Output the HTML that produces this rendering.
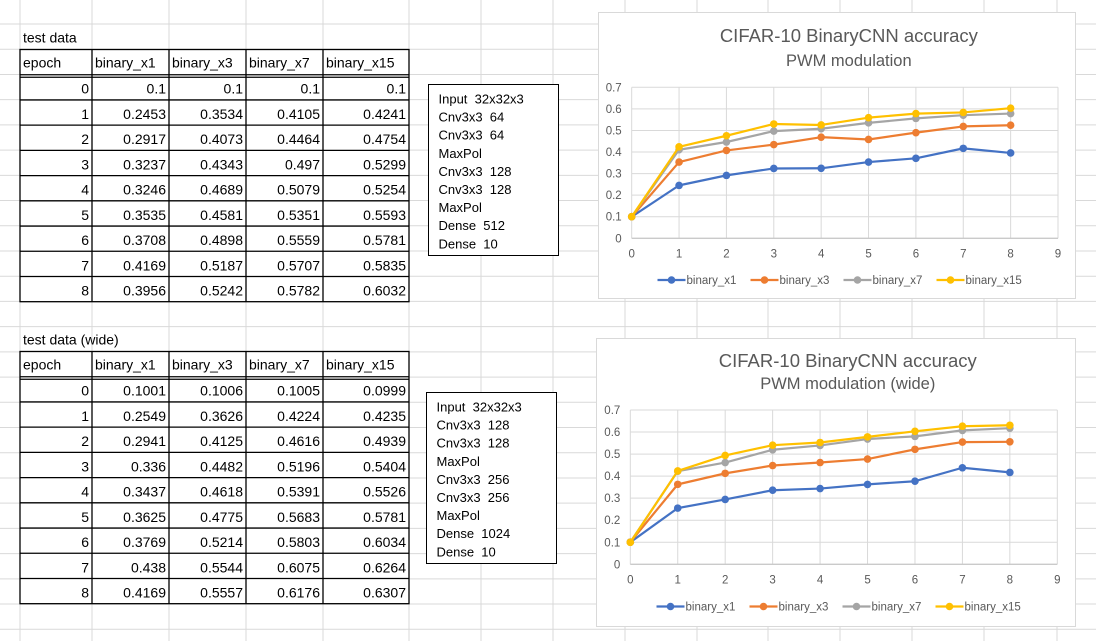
<!DOCTYPE html>
<html><head><meta charset="utf-8">
<style>
body{margin:0;background:#fff;overflow:hidden;width:1096px;height:641px}
svg{display:block;font-family:"Liberation Sans","Noto Sans CJK JP",sans-serif}
text{white-space:pre}
</style></head>
<body>
<svg id="s" width="1096" height="641" viewBox="0 0 1096 641" xmlns="http://www.w3.org/2000/svg">
<g id="grid"></g>
<g id="tables"></g>
<g id="boxes"></g>
<g id="charts"></g>
</svg>
<script>
const epochs = [0,1,2,3,4,5,6,7,8];
const seriesNames = ["binary_x1","binary_x3","binary_x7","binary_x15"];
const t1_x1 = [0.1,0.2453,0.2917,0.3237,0.3246,0.3535,0.3708,0.4169,0.3956];
const t1_x3 = [0.1,0.3534,0.4073,0.4343,0.4689,0.4581,0.4898,0.5187,0.5242];
const t1_x7 = [0.1,0.4105,0.4464,0.497,0.5079,0.5351,0.5559,0.5707,0.5782];
const t1_x15 = [0.1,0.4241,0.4754,0.5299,0.5254,0.5593,0.5781,0.5835,0.6032];
const t2_x1 = [0.1001,0.2549,0.2941,0.336,0.3437,0.3625,0.3769,0.438,0.4169];
const t2_x3 = [0.1006,0.3626,0.4125,0.4482,0.4618,0.4775,0.5214,0.5544,0.5557];
const t2_x7 = [0.1005,0.4224,0.4616,0.5196,0.5391,0.5683,0.5803,0.6075,0.6176];
const t2_x15 = [0.0999,0.4235,0.4939,0.5404,0.5526,0.5781,0.6034,0.6264,0.6307];
const yTicks = [0,0.1,0.2,0.3,0.4,0.5,0.6,0.7];
const xTicks = [0,1,2,3,4,5,6,7,8,9];
const box1Lines = ["Input  32x32x3","Cnv3x3  64","Cnv3x3  64","MaxPol","Cnv3x3  128","Cnv3x3  128","MaxPol","Dense  512","Dense  10"];
const box2Lines = ["Input  32x32x3","Cnv3x3  128","Cnv3x3  128","MaxPol","Cnv3x3  256","Cnv3x3  256","MaxPol","Dense  1024","Dense  10"];
const colors = ["#4472C4","#ED7D31","#A5A5A5","#FFC000"];

const NS="http://www.w3.org/2000/svg";
function mk(tag, attrs, parent, text){const e=document.createElementNS(NS,tag);for(const k in attrs)e.setAttribute(k,attrs[k]);if(text!==undefined)e.textContent=text;parent.appendChild(e);return e;}

const grid=document.getElementById('grid');
const colX=[20,92,169,246,323,409,481,553,625,697,768,840,912,984,1057];
const RH=25.22;
for(const x of colX){const l=mk('line',{x1:x,y1:0,x2:x,y2:641,stroke:'#d9d9d9','stroke-width':1},grid);}
for(let i=0;i<25;i++){const y=24+i*RH;if(y>640)break;const l=mk('line',{x1:0,y1:y,x2:1096,y2:y,stroke:'#d9d9d9','stroke-width':1},grid);}

const tg=document.getElementById('tables');
function table(title, top, cols){
  const g=mk('g',{},tg);
  
  
  const left=colX[0], right=colX[5];
  const tt=mk('text',{x:left+3,y:top-7,'font-size':14,fill:'#000'},g,title);
  
  
  mk('rect',{x:left,y:top,width:right-left,height:RH*10,fill:'#fff',stroke:'#000','stroke-width':1.3},g);
  for(let i=1;i<10;i++){mk('line',{x1:left,y1:top+i*RH,x2:right,y2:top+i*RH,stroke:'#000','stroke-width':1.3},g);}
  mk('line',{x1:left,y1:top+RH+2.5,x2:right,y2:top+RH+2.5,stroke:'#000','stroke-width':1.3},g);
  for(let c=1;c<5;c++){mk('line',{x1:colX[c],y1:top,x2:colX[c],y2:top+RH*10,stroke:'#000','stroke-width':1.3},g);}
  const hdr=["epoch"].concat(seriesNames);
  hdr.forEach((h,c)=>{const t=mk('text',{x:colX[c]+3,y:top+18,'font-size':14},g,h);});
  epochs.forEach((ep,r)=>{
    const y=top+RH*(r+1)+19;
    const t=mk('text',{x:colX[1]-3,y:y,'font-size':14,'text-anchor':'end'},g,String(ep));
    
    cols.forEach((arr,c)=>{const v=mk('text',{x:colX[c+2]-3,y:y,'font-size':14,'text-anchor':'end'},g,String(arr[r]));});
  });
}
table("test data",49.5,[t1_x1,t1_x3,t1_x7,t1_x15]);
table("test data (wide)",351.5,[t2_x1,t2_x3,t2_x7,t2_x15]);

const bg=document.getElementById('boxes');
function tbox(x,y,w,h,lines){
  const g=mk('g',{},bg);
  
  
  mk('rect',{x:x,y:y,width:w,height:h,fill:'#fff',stroke:'#000','stroke-width':1},g);
  lines.forEach((l,i)=>{const t=mk('text',{x:x+10,y:y+19+i*18.1,'font-size':13},g,l);});
}
tbox(428.5,84.5,130,171,box1Lines);
tbox(426.5,392.5,130,171,box2Lines);

const cg=document.getElementById('charts');
function chart(o){
  const g=mk('g',{},cg);
  
  
  mk('rect',{x:o.bx,y:o.by,width:o.bw,height:o.bh,fill:'#fff',stroke:'#d9d9d9','stroke-width':1},g);
  const ct=mk('text',{x:(o.px0+o.px1)/2+4,y:o.t1y,'font-size':18.5,fill:'#595959','text-anchor':'middle'},g,"CIFAR-10 BinaryCNN accuracy");
  
  const cs=mk('text',{x:(o.px0+o.px1)/2+4,y:o.t2y,'font-size':16.5,fill:'#595959','text-anchor':'middle'},g,o.sub);
  
  const X=v=>o.px0+(v-0)/(9-0)*(o.px1-o.px0);
  const Y=v=>o.py0-(v/0.7)*(o.py0-o.py1);
  yTicks.forEach(v=>{
    const l=mk('line',{x1:o.px0,y1:Y(v),x2:o.px1,y2:Y(v),stroke:'#d9d9d9','stroke-width':1},g);
    
    const t=mk('text',{x:o.px0-10,y:Y(v)+4,'font-size':11.5,fill:'#595959','text-anchor':'end'},g,String(v));
    
  });
  xTicks.forEach(v=>{
    const l=mk('line',{x1:X(v),y1:o.py1,x2:X(v),y2:o.py0,stroke:'#d9d9d9','stroke-width':1},g);
    
    const t=mk('text',{x:X(v),y:o.py0+19,'font-size':11.5,fill:'#595959','text-anchor':'middle'},g,String(v));
    
  });
  const ax=mk('line',{x1:o.px0,y1:o.py0,x2:o.px1,y2:o.py0,stroke:'#bfbfbf','stroke-width':1},g);
  
  o.series.forEach((arr,si)=>{
    const sg=mk('g',{},g);
    
    
    const pts=arr.map((v,i)=>X(epochs[i])+','+Y(v)).join(' ');
    mk('polyline',{points:pts,fill:'none',stroke:colors[si],'stroke-width':2.2,'stroke-linejoin':'round'},sg);
    arr.forEach((v,i)=>{const c=mk('circle',{cx:X(epochs[i]),cy:Y(v),r:3.8,fill:colors[si]},sg);});
  });
  seriesNames.forEach((n,si)=>{
    const lx=o.lx+si*93;
    const lg=mk('g',{},g);
    
    
    mk('line',{x1:lx,y1:o.ly,x2:lx+28,y2:o.ly,stroke:colors[si],'stroke-width':2.2},lg);
    mk('circle',{cx:lx+14,cy:o.ly,r:3.8,fill:colors[si]},lg);
    mk('text',{x:lx+29,y:o.ly+4,'font-size':11.5,fill:'#595959'},lg,n);
  });
}
chart({name:'accuracy-chart',sub:'PWM modulation',series:[t1_x1,t1_x3,t1_x7,t1_x15],bx:598.5,by:12.5,bw:477,bh:286,px0:631.7,px1:1058,py0:238.3,py1:87.3,t1y:42,t2y:66,lx:657.5,ly:280});
chart({name:'accuracy-chart-wide',sub:'PWM modulation (wide)',series:[t2_x1,t2_x3,t2_x7,t2_x15],bx:596.5,by:338.5,bw:479,bh:288,px0:630.3,px1:1057.3,py0:564.3,py1:410,t1y:367,t2y:389,lx:656.5,ly:606.5});
</script>
</body></html>
